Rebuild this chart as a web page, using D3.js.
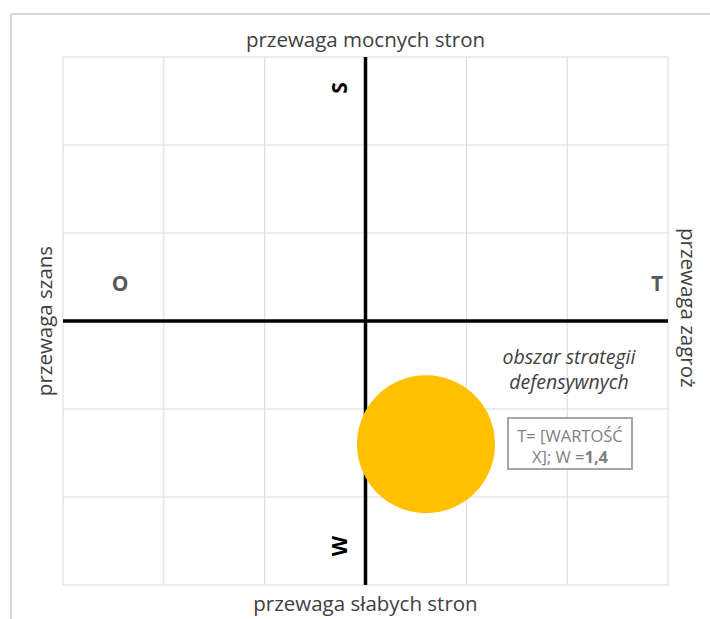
<!DOCTYPE html>
<html><head><meta charset="utf-8">
<script src="https://cdn.jsdelivr.net/npm/d3@7"></script>
<style>body{margin:0;background:#fff}svg{display:block}text{font-family:"Open Sans",sans-serif}</style>
</head><body><svg id="c" width="710" height="619"></svg>
<script>
// data
const xDomain = [-3, 3];
const yDomain = [-3, 3];
const gridTicks = [-3, -2, -1, 0, 1, 2, 3];
const bubbleX = [0.6];
const bubbleY = [-1.4];
const bubbleSize = [1.4];
const labelLine1 = ["T= [WARTOŚĆ"];
const labelLine2 = ["X]; W =", "1,4"];
const axisTitles = ["przewaga mocnych stron", "przewaga słabych stron", "przewaga szans", "przewaga zagroż"];
const quadrantLetters = ["S", "W", "O", "T"];
const areaLabel = ["obszar strategii", "defensywnych"];

const svg = d3.select("#c");
const L = 63, R = 668, T = 57, B = 585;
const x = d3.scaleLinear().domain(xDomain).range([L, R]);
const y = d3.scaleLinear().domain(yDomain).range([B, T]);
const r = d3.scaleSqrt().domain([0, bubbleSize[0]]).range([0, 69]);

// outer frame
svg.append("rect").attr("x", 11).attr("y", 14).attr("width", 720).attr("height", 640)
  .attr("fill", "none").attr("stroke", "#d9d9d9").attr("stroke-width", 2);

// grid
const g = svg.append("g");
g.selectAll("line.v").data(gridTicks).join("line")
  .attr("x1", d => x(d)).attr("x2", d => x(d)).attr("y1", T).attr("y2", B)
  .attr("stroke", "#d9d9d9").attr("stroke-width", 1);
g.selectAll("line.h").data(gridTicks).join("line")
  .attr("y1", d => y(d)).attr("y2", d => y(d)).attr("x1", L).attr("x2", R)
  .attr("stroke", "#d9d9d9").attr("stroke-width", 1);

// main axes
svg.append("line").attr("x1", x(0)).attr("x2", x(0)).attr("y1", T).attr("y2", B)
  .attr("stroke", "#000").attr("stroke-width", 3.5);
svg.append("line").attr("x1", L).attr("x2", R).attr("y1", y(0)).attr("y2", y(0))
  .attr("stroke", "#000").attr("stroke-width", 3.5);

// bubble
svg.selectAll("circle.b").data(bubbleX).join("circle")
  .attr("cx", (d, i) => x(d)).attr("cy", (d, i) => y(bubbleY[i]))
  .attr("r", (d, i) => r(bubbleSize[i])).attr("fill", "#ffc000");

// axis titles
const tc = "#404040";
const fs = 20.5;
svg.append("text").attr("x", x(0)).attr("y", 47).attr("text-anchor", "middle")
  .attr("font-size", fs).attr("fill", tc).text(axisTitles[0]);
svg.append("text").attr("x", x(0)).attr("y", 611).attr("text-anchor", "middle")
  .attr("font-size", fs).attr("fill", tc).text(axisTitles[1]);
svg.append("text").attr("transform", `translate(52,${y(0)}) rotate(-90)`).attr("text-anchor", "middle")
  .attr("font-size", fs).attr("fill", tc).text(axisTitles[2]);
svg.append("text").attr("transform", `translate(681,228) rotate(90)`).attr("text-anchor", "start")
  .attr("font-size", fs).attr("fill", tc).text(axisTitles[3]);

// quadrant letters
svg.append("text").attr("transform", `translate(347,88) rotate(-90)`).attr("text-anchor", "middle")
  .attr("font-size", 21).attr("font-weight", "bold").attr("fill", "#000").text(quadrantLetters[0]);
svg.append("text").attr("transform", `translate(347,546) rotate(-90)`).attr("text-anchor", "middle")
  .attr("font-size", 21).attr("font-weight", "bold").attr("fill", "#000").text(quadrantLetters[1]);
svg.append("text").attr("x", 120).attr("y", 291).attr("text-anchor", "middle")
  .attr("font-size", 21).attr("font-weight", "bold").attr("fill", "#595959").text(quadrantLetters[2]);
svg.append("text").attr("x", 657).attr("y", 291).attr("text-anchor", "middle")
  .attr("font-size", 21).attr("font-weight", "bold").attr("fill", "#595959").text(quadrantLetters[3]);

// area label
svg.append("text").attr("x", 569).attr("y", 364).attr("text-anchor", "middle")
  .attr("font-size", 19.5).attr("font-style", "italic").attr("fill", tc).text(areaLabel[0]);
svg.append("text").attr("x", 569).attr("y", 389).attr("text-anchor", "middle")
  .attr("font-size", 19.5).attr("font-style", "italic").attr("fill", tc).text(areaLabel[1]);

// data label box
svg.append("rect").attr("x", 508).attr("y", 418).attr("width", 124).attr("height", 51)
  .attr("fill", "#fff").attr("stroke", "#a6a6a6").attr("stroke-width", 2);
svg.append("text").attr("x", 570).attr("y", 442).attr("text-anchor", "middle")
  .attr("font-size", 16.5).attr("fill", "#7f7f7f").text(labelLine1[0]);
const t2 = svg.append("text").attr("x", 570).attr("y", 463).attr("text-anchor", "middle")
  .attr("font-size", 16.5).attr("fill", "#7f7f7f");
t2.append("tspan").text(labelLine2[0]);
t2.append("tspan").attr("font-weight", "bold").text(labelLine2[1]);
</script></body></html>
